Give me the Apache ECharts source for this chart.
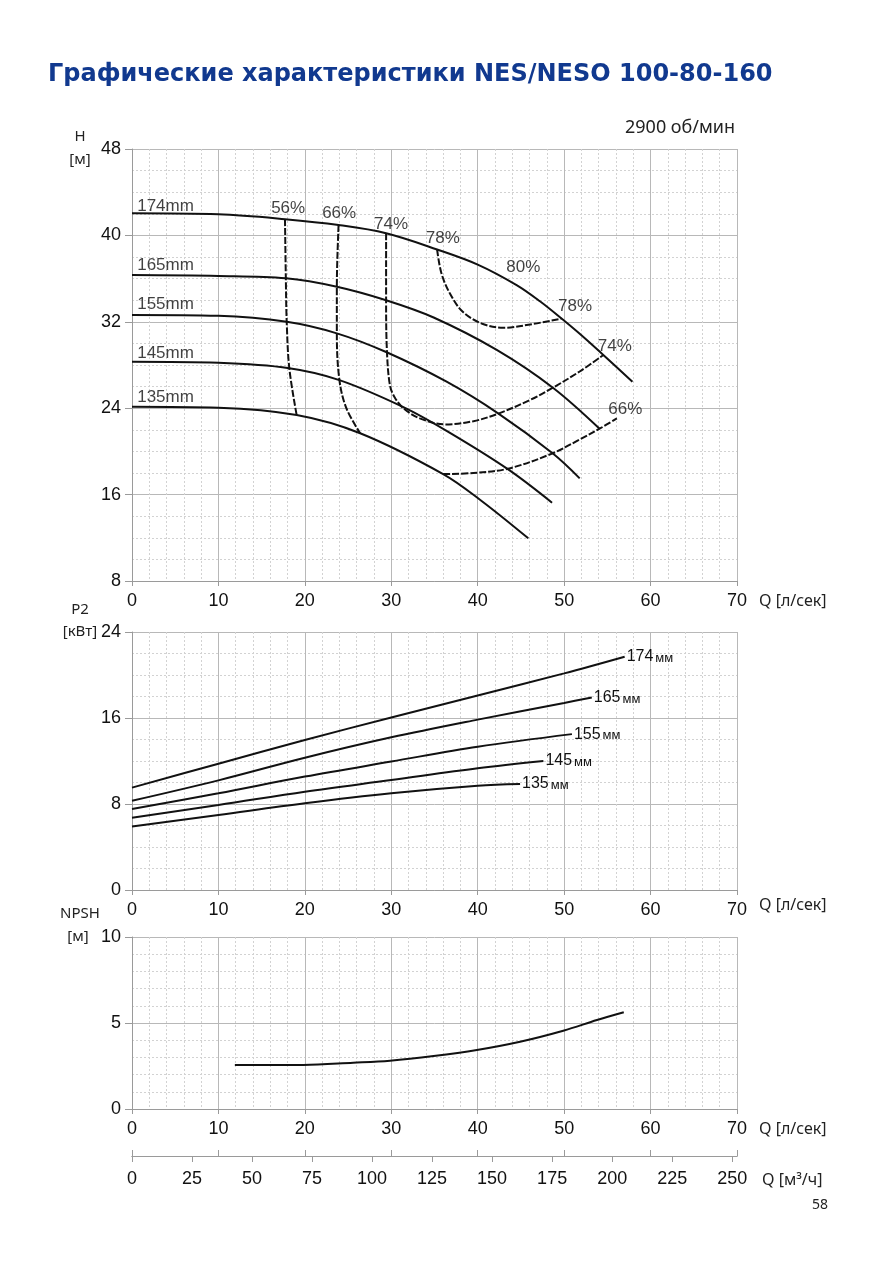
<!DOCTYPE html>
<html>
<head>
<meta charset="utf-8">
<script src="https://cdn.jsdelivr.net/npm/echarts@6/dist/echarts.min.js"></script>
<style>
  html, body { margin: 0; padding: 0; background: #fff; }
  #main { width: 893px; height: 1263px; }
</style>
</head>
<body>
<div id="main"></div>
<script>
// кривые напора H(Q), Q в л/сек, H в м
var head174 = [[0,42.05],[10,41.95],[17.7,41.5],[23.9,40.96],[29.4,40.2],[35.3,38.7],[40,37.3],[44.5,35.4],[47.2,33.9],[49.7,32.3],[52,30.75],[54.5,28.95],[57.9,26.45]];
var head165 = [[0,36.33],[10,36.25],[17.8,36.03],[23.7,35.25],[29.4,34.0],[34.9,32.4],[42.2,29.4],[48.7,25.9],[54.1,22.1]];
var head155 = [[0,32.63],[10,32.55],[17.9,32.0],[23.7,30.93],[29.4,29.2],[36.4,26.45],[42.4,23.5],[48.7,19.8],[51.8,17.5]];
var head145 = [[0,28.3],[10,28.2],[18.2,27.7],[24.0,26.6],[31.4,24.1],[36.4,21.9],[43.4,18.4],[48.6,15.25]];
var head135 = [[0,24.14],[10,24.05],[19.05,23.37],[26.4,21.68],[36.0,17.9],[40.3,15.5],[45.85,11.95]];

// линии КПД
var eff56 = [[17.7,41.5],[17.8,36.0],[17.9,32.0],[18.2,27.7],[19.05,23.37]];
var eff66a = [[23.9,40.96],[23.7,35.25],[23.7,30.9],[24.0,26.6],[24.8,24.0],[26.4,21.68]];
var eff74 = [[29.4,40.2],[29.4,34.0],[29.5,29.2],[29.85,26.1],[30.4,25.0],[31.4,24.0],[33.3,23.06],[36.2,22.5],[39.5,22.8],[42.4,23.5],[46.05,24.76],[48.7,25.9],[51.8,27.4],[54.5,28.9]];
var eff78 = [[35.3,38.7],[35.8,36.5],[36.8,34.6],[38.3,32.9],[40.6,31.8],[43.0,31.45],[46.4,31.8],[49.7,32.3]];
var eff66b = [[36.0,17.9],[39.5,18.0],[43.5,18.4],[48.6,19.8],[51.8,21.1],[54.1,22.1],[56.1,23.06]];

// подписи на графике H (текст, Q, H)
var headLabels = [['174mm',0.6,42.7],['165mm',0.6,37.26],['155mm',0.6,33.65],['145mm',0.6,29.1],['135mm',0.6,25.0]];
var effLabels = [['56%',16.1,42.5],['66%',22.0,42.0],['74%',28.0,41.0],['78%',34.0,39.76],['80%',43.3,37.0],['78%',49.3,33.4],['74%',53.9,29.76],['66%',55.1,23.9]];

// мощность P2(Q), кВт
var power174 = [[0,9.52],[10,11.75],[20,13.95],[30,16.05],[40,18.1],[50,20.15],[57,21.7]];
var power165 = [[0,8.3],[10,10.2],[20,12.3],[30,14.2],[40,15.85],[50,17.4],[53.2,17.9]];
var power155 = [[0,7.53],[10,9.0],[20,10.55],[30,11.95],[40,13.33],[50.9,14.5]];
var power145 = [[0,6.73],[10,7.9],[20,9.15],[30,10.23],[40,11.32],[47.6,12.0]];
var power135 = [[0,5.9],[10,6.98],[20,8.07],[30,9.0],[40,9.7],[44.9,9.86]];
var powerNames = ['174','165','155','145','135'];

// NPSH(Q), м
var npsh = [[11.9,2.56],[19.8,2.56],[25.6,2.69],[29.85,2.81],[34.9,3.08],[39.9,3.43],[44.9,3.91],[49.9,4.55],[53.8,5.17],[56.9,5.62]];

// шкала расхода в м3/ч
var flowM3hTicks = [0,25,50,75,100,125,150,175,200,225,250];

var myChart = echarts.init(document.getElementById('main'));

var FONT = 'Liberation Sans, Arial, sans-serif';
var axisGray = '#9a9a9a';

function qAxis(gridIndex) {
  return {
    type: 'value', gridIndex: gridIndex, min: 0, max: 70, interval: 10,
    axisLine: { show: true, onZero: false, lineStyle: { color: axisGray } },
    axisTick: { show: true, length: 5, lineStyle: { color: axisGray } },
    axisLabel: { fontSize: 18, color: '#111', fontFamily: FONT, margin: 11 },
    splitLine: { show: true, lineStyle: { color: '#b8b8b8', width: 1 } },
    minorTick: { show: false, splitNumber: 5 },
    minorSplitLine: { show: true, lineStyle: { color: '#d2d2d2', type: [2, 2], width: 1 } }
  };
}
function valAxis(gridIndex, min, max, interval, minorSplit) {
  return {
    type: 'value', gridIndex: gridIndex, min: min, max: max, interval: interval,
    axisLine: { show: true, lineStyle: { color: axisGray } },
    axisTick: { show: true, length: 7, lineStyle: { color: axisGray } },
    axisLabel: { fontSize: 18, color: '#111', fontFamily: FONT, margin: 11 },
    splitLine: { show: true, lineStyle: { color: '#b8b8b8', width: 1 } },
    minorTick: { show: false, splitNumber: minorSplit },
    minorSplitLine: { show: true, lineStyle: { color: '#d2d2d2', type: [2, 2], width: 1 } }
  };
}
function curve(data, xi, yi) {
  return {
    type: 'line', xAxisIndex: xi, yAxisIndex: yi, data: data, smooth: 0.35,
    symbol: 'none', silent: true,
    lineStyle: { color: '#111', width: 2 }
  };
}
function dashed(data) {
  var s = curve(data, 0, 0);
  s.lineStyle = { color: '#111', width: 2, type: [7, 2] };
  return s;
}
function textSeries(list, size) {
  return {
    type: 'scatter', xAxisIndex: 0, yAxisIndex: 0, symbolSize: 0, silent: true,
    data: list.map(function (d) { return { value: [d[1], d[2]], name: d[0] }; }),
    label: {
      show: true, position: 'right', distance: 0, formatter: '{b}',
      fontSize: size, color: '#111', fontFamily: FONT
    }
  };
}

var powerSeries = [power174, power165, power155, power145, power135].map(function (d, i) {
  var s = curve(d, 1, 1);
  s.endLabel = {
    show: true, distance: 2, formatter: '{a|' + powerNames[i] + '}{b|мм}',
    rich: {
      a: { fontSize: 16, color: '#111', fontFamily: FONT },
      b: { fontSize: 13, color: '#111', fontFamily: FONT, padding: [3, 0, 0, 2] }
    }
  };
  return s;
});

var gText = function (text, x, y, size, extra) {
  var st = { text: text, fontSize: size, fontFamily: 'Noto Sans, sans-serif', fill: '#222',
             align: 'left', verticalAlign: 'middle' };
  for (var k in extra) st[k] = extra[k];
  return { type: 'text', x: x, y: y, silent: true, style: st };
};

option = {
  backgroundColor: '#fff',
  animation: false,
  grid: [
    { left: 132, top: 149, width: 605, height: 432 },
    { left: 132, top: 632, width: 605, height: 258 },
    { left: 132, top: 937, width: 605, height: 172 },
    { left: 132, top: 1155, width: 605, height: 1 }
  ],
  xAxis: [
    qAxis(0), qAxis(1), qAxis(2),
    {
      type: 'value', gridIndex: 3, min: 0, max: 70, interval: 10, position: 'top',
      axisLine: { show: true, lineStyle: { color: axisGray } },
      axisTick: { show: true, length: 6, lineStyle: { color: axisGray } },
      axisLabel: { show: false }, splitLine: { show: false }
    },
    {
      type: 'value', gridIndex: 3, min: 0, max: 252, position: 'bottom',
      axisLine: { show: true, lineStyle: { color: axisGray } },
      axisTick: { show: true, length: 6, customValues: flowM3hTicks, lineStyle: { color: axisGray } },
      axisLabel: { fontSize: 18, color: '#111', fontFamily: FONT, margin: 14, customValues: flowM3hTicks },
      splitLine: { show: false }
    }
  ],
  yAxis: [
    valAxis(0, 8, 48, 8, 4),
    valAxis(1, 0, 24, 8, 4),
    valAxis(2, 0, 10, 5, 5),
    { type: 'value', gridIndex: 3, min: 0, max: 1, show: false }
  ],
  graphic: [
    gText('Графические характеристики NES/NESO 100-80-160', 48, 75, 24,
          { fontWeight: 'bold', fill: '#11398f', fontFamily: 'DejaVu Sans, sans-serif' }),
    gText('2900 об/мин', 625, 128, 18),
    gText('H', 80, 137, 15, { align: 'center' }),
    gText('[м]', 80, 160, 15, { align: 'center' }),
    gText('P2', 80, 610, 15, { align: 'center' }),
    gText('[кВт]', 80, 632, 15, { align: 'center' }),
    gText('NPSH', 80, 914, 15, { align: 'center' }),
    gText('[м]', 78, 937, 15, { align: 'center' }),
    gText('Q [л/сек]', 759, 601, 16),
    gText('Q [л/сек]', 759, 905, 16),
    gText('Q [л/сек]', 759, 1129, 16),
    gText('Q [м³/ч]', 762, 1180, 16),
    gText('58', 812, 1205, 14)
  ],
  series: [
    curve(head174, 0, 0), curve(head165, 0, 0), curve(head155, 0, 0),
    curve(head145, 0, 0), curve(head135, 0, 0),
    dashed(eff56), dashed(eff66a), dashed(eff74), dashed(eff78), dashed(eff66b),
    textSeries(headLabels, 17), textSeries(effLabels, 17)
  ].concat(powerSeries).concat([curve(npsh, 2, 2)])
};

myChart.setOption(option);
</script>
</body>
</html>
